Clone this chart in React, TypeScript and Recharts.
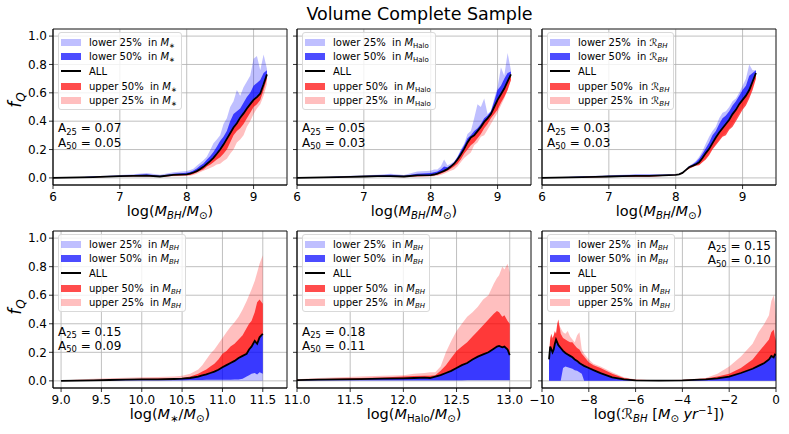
import React from 'react';
import { ComposedChart, Area, Line, XAxis, YAxis, CartesianGrid, ReferenceArea } from 'recharts';

const FONT = '"DejaVu Sans", Verdana, sans-serif';

// ---------- Panel A: top-left, split in M*, x = log(MBH) ----------
const xA = [6.0,6.2,6.4,6.6,6.8,7.0,7.2,7.4,7.6,7.8,8.0,8.05,8.1,8.15,8.2,8.25,8.3,8.35,8.4,8.45,8.5,8.55,8.6,8.65,8.7,8.75,8.8,8.85,8.9,8.95,9.0,9.05,9.1,9.15,9.2];
const allA = [0.000,0.002,0.004,0.006,0.009,0.012,0.014,0.016,0.010,0.022,0.025,0.030,0.038,0.048,0.062,0.078,0.098,0.118,0.142,0.170,0.200,0.235,0.275,0.315,0.355,0.385,0.425,0.455,0.490,0.520,0.550,0.570,0.595,0.660,0.730];
const lo25A = [0.000,0.003,0.006,0.012,0.016,0.020,0.026,0.034,0.022,0.040,0.048,0.055,0.065,0.085,0.105,0.125,0.150,0.195,0.245,0.270,0.300,0.380,0.420,0.500,0.540,0.620,0.580,0.640,0.680,0.720,0.840,0.860,0.760,0.870,0.770];
const lo50A = [0.000,0.003,0.005,0.010,0.013,0.016,0.020,0.025,0.016,0.030,0.036,0.042,0.052,0.066,0.085,0.102,0.128,0.152,0.182,0.220,0.260,0.290,0.330,0.400,0.450,0.470,0.490,0.530,0.570,0.600,0.650,0.670,0.690,0.740,0.760];
const up50A = [0.000,0.001,0.003,0.005,0.007,0.009,0.011,0.012,0.007,0.015,0.018,0.020,0.028,0.038,0.050,0.060,0.080,0.092,0.110,0.130,0.145,0.170,0.200,0.250,0.300,0.330,0.350,0.380,0.420,0.460,0.500,0.520,0.550,0.620,0.700];
const up25A = [0.000,0.001,0.002,0.004,0.006,0.008,0.010,0.010,0.006,0.012,0.014,0.015,0.020,0.030,0.040,0.050,0.060,0.070,0.080,0.095,0.100,0.120,0.135,0.170,0.200,0.250,0.270,0.300,0.360,0.400,0.450,0.490,0.520,0.580,0.660];

// ---------- Panel B: top-middle, split in MHalo ----------
const xB = [6.0,6.2,6.4,6.6,6.8,7.0,7.2,7.4,7.6,7.8,8.0,8.05,8.1,8.15,8.2,8.25,8.3,8.35,8.4,8.45,8.5,8.55,8.6,8.65,8.7,8.75,8.8,8.85,8.9,8.95,9.0,9.05,9.1,9.15,9.2];
const allB = [0.000,0.002,0.004,0.006,0.008,0.010,0.012,0.012,0.010,0.018,0.020,0.024,0.030,0.040,0.050,0.062,0.080,0.100,0.130,0.165,0.205,0.250,0.285,0.300,0.330,0.360,0.395,0.420,0.450,0.500,0.550,0.590,0.630,0.680,0.730];
const lo25B = [0.000,0.003,0.006,0.012,0.016,0.018,0.022,0.030,0.020,0.045,0.050,0.060,0.060,0.080,0.130,0.090,0.100,0.115,0.150,0.200,0.240,0.310,0.330,0.420,0.520,0.500,0.560,0.450,0.470,0.560,0.640,0.780,0.720,0.880,0.760];
const lo50B = [0.000,0.002,0.005,0.009,0.012,0.014,0.018,0.022,0.016,0.030,0.035,0.040,0.045,0.060,0.080,0.075,0.090,0.110,0.145,0.190,0.230,0.280,0.300,0.330,0.350,0.380,0.420,0.440,0.470,0.540,0.620,0.650,0.700,0.740,0.750];
const up50B = [0.000,0.001,0.003,0.004,0.006,0.008,0.009,0.009,0.006,0.012,0.014,0.018,0.022,0.030,0.040,0.050,0.065,0.080,0.100,0.130,0.170,0.200,0.230,0.250,0.280,0.310,0.350,0.380,0.420,0.450,0.480,0.530,0.570,0.620,0.690];
const up25B = [0.000,0.001,0.002,0.003,0.005,0.006,0.008,0.006,0.004,0.008,0.010,0.012,0.015,0.020,0.030,0.040,0.050,0.060,0.080,0.110,0.140,0.160,0.180,0.230,0.250,0.290,0.300,0.340,0.380,0.420,0.460,0.510,0.560,0.620,0.690];

// ---------- Panel C: top-right, split in R_BH ----------
const xC = [6.0,6.2,6.4,6.6,6.8,7.0,7.2,7.4,7.6,7.8,8.0,8.05,8.1,8.15,8.2,8.25,8.3,8.35,8.4,8.45,8.5,8.55,8.6,8.65,8.7,8.75,8.8,8.85,8.9,8.95,9.0,9.05,9.1,9.15,9.2];
const allC = [0.000,0.002,0.004,0.006,0.008,0.010,0.012,0.014,0.015,0.018,0.022,0.025,0.035,0.055,0.075,0.085,0.095,0.110,0.140,0.175,0.205,0.245,0.285,0.320,0.350,0.380,0.410,0.450,0.480,0.520,0.550,0.580,0.620,0.680,0.740];
const lo25C = [0.000,0.004,0.008,0.012,0.015,0.018,0.022,0.026,0.025,0.025,0.026,0.028,0.040,0.060,0.085,0.100,0.120,0.150,0.190,0.240,0.290,0.330,0.360,0.420,0.460,0.470,0.500,0.540,0.560,0.600,0.650,0.700,0.800,0.760,0.760];
const lo50C = [0.000,0.003,0.006,0.010,0.012,0.015,0.018,0.022,0.022,0.022,0.024,0.027,0.038,0.058,0.080,0.095,0.110,0.135,0.170,0.210,0.250,0.300,0.330,0.380,0.420,0.440,0.470,0.510,0.540,0.580,0.620,0.650,0.720,0.740,0.760];
const up50C = [0.000,0.001,0.002,0.003,0.005,0.006,0.007,0.008,0.009,0.014,0.020,0.022,0.030,0.050,0.065,0.075,0.085,0.090,0.110,0.130,0.160,0.200,0.230,0.260,0.290,0.300,0.340,0.360,0.400,0.440,0.480,0.510,0.560,0.620,0.700];
const up25C = [0.000,0.001,0.002,0.003,0.005,0.006,0.007,0.008,0.009,0.014,0.020,0.022,0.032,0.052,0.070,0.080,0.090,0.095,0.115,0.140,0.170,0.210,0.240,0.270,0.300,0.320,0.350,0.380,0.420,0.460,0.500,0.530,0.580,0.640,0.710];

// ---------- Panel D: bottom-left, x = log(M*), split in MBH ----------
const xD = [9.0,9.2,9.4,9.6,9.8,10.0,10.2,10.4,10.5,10.6,10.7,10.75,10.8,10.85,10.9,10.95,11.0,11.05,11.1,11.15,11.2,11.25,11.3,11.33,11.36,11.4,11.43,11.46,11.5];
const allD = [0.000,0.002,0.004,0.006,0.008,0.010,0.011,0.013,0.015,0.020,0.030,0.038,0.045,0.055,0.065,0.078,0.095,0.110,0.125,0.140,0.160,0.175,0.190,0.220,0.240,0.280,0.260,0.305,0.330];
const lo25D = [0,0,0,0,0,0,0,0,0,0,0,0,0,0,0,0,0,0,0,0,0,0,0,0,0,0,0,0,0];
const lo50D = [0.000,0.001,0.002,0.003,0.004,0.005,0.005,0.005,0.005,0.006,0.006,0.006,0.007,0.007,0.008,0.008,0.008,0.008,0.008,0.009,0.010,0.015,0.030,0.040,0.050,0.055,0.045,0.060,0.050];
const up50D = [0.000,0.004,0.006,0.008,0.012,0.015,0.017,0.018,0.020,0.030,0.050,0.065,0.080,0.100,0.120,0.150,0.190,0.210,0.240,0.260,0.290,0.320,0.370,0.400,0.420,0.480,0.550,0.570,0.540];
const up25D = [0.000,0.010,0.015,0.018,0.022,0.025,0.027,0.030,0.035,0.050,0.080,0.110,0.150,0.190,0.220,0.260,0.300,0.340,0.380,0.410,0.450,0.500,0.560,0.600,0.640,0.700,0.760,0.820,0.880];

// ---------- Panel E: bottom-middle, x = log(MHalo), split in MBH ----------
const xE = [11.0,11.2,11.4,11.6,11.8,12.0,12.1,12.2,12.25,12.3,12.35,12.4,12.45,12.5,12.55,12.6,12.65,12.7,12.75,12.8,12.85,12.88,12.9,12.93,12.95,12.98,13.0];
const allE = [0.005,0.008,0.010,0.012,0.015,0.018,0.020,0.022,0.020,0.030,0.040,0.055,0.070,0.090,0.110,0.125,0.150,0.170,0.185,0.200,0.225,0.240,0.245,0.235,0.240,0.220,0.180];
const lo25E = [0,0,0,0,0,0,0,0,0,0,0,0,0,0,0,0,0,0,0,0,0,0,0,0,0,0,0];
const lo50E = [0.003,0.004,0.005,0.005,0.005,0.005,0.005,0.005,0.005,0.005,0.005,0.005,0.005,0.005,0.005,0.006,0.006,0.006,0.006,0.006,0.006,0.006,0.006,0.006,0.006,0.006,0.006];
const up50E = [0.008,0.012,0.016,0.020,0.024,0.030,0.034,0.036,0.035,0.040,0.070,0.110,0.160,0.210,0.240,0.270,0.310,0.350,0.390,0.430,0.470,0.490,0.480,0.450,0.460,0.420,0.400];
const up25E = [0.012,0.020,0.025,0.030,0.035,0.040,0.050,0.055,0.060,0.060,0.100,0.200,0.280,0.350,0.400,0.450,0.480,0.520,0.570,0.600,0.680,0.720,0.740,0.800,0.780,0.820,0.760];

// ---------- Panel F: bottom-right, x = log(R_BH), split in MBH ----------
const xF = [-9.7,-9.65,-9.6,-9.55,-9.5,-9.45,-9.4,-9.35,-9.3,-9.2,-9.1,-9.0,-8.9,-8.8,-8.7,-8.6,-8.5,-8.4,-8.3,-8.2,-8.0,-7.8,-7.5,-7.0,-6.5,-6.0,-5.0,-4.0,-3.0,-2.5,-2.0,-1.5,-1.0,-0.75,-0.5,-0.3,-0.2,-0.1,-0.05,0.0];
const allF = [0.15,0.24,0.22,0.20,0.22,0.26,0.29,0.27,0.25,0.23,0.21,0.195,0.185,0.175,0.165,0.15,0.14,0.125,0.115,0.105,0.09,0.075,0.054,0.025,0.01,0.004,0.002,0.004,0.010,0.018,0.030,0.055,0.085,0.105,0.125,0.150,0.175,0.165,0.185,0.180];
const lo25F = [0,0,0,0,0,0,0,0,0,0,0,0,0,0,0,0,0,0,0,0,0,0,0,0,0,0,0,0,0,0,0,0,0,0,0,0,0,0,0,0];
const lo50F = [0,0,0,0,0,0,0,0,0,0,0.09,0.10,0.095,0.09,0.085,0.075,0.07,0.06,0.05,0,0,0,0,0,0,0,0,0,0,0,0,0,0,0,0,0,0,0,0,0];
const up50F = [0.18,0.30,0.33,0.30,0.32,0.35,0.33,0.40,0.43,0.33,0.30,0.29,0.28,0.27,0.27,0.25,0.23,0.22,0.19,0.17,0.13,0.11,0.09,0.05,0.02,0.008,0.004,0.006,0.016,0.03,0.05,0.09,0.15,0.20,0.25,0.29,0.34,0.36,0.31,0.28];
const up25F = [0.18,0.28,0.30,0.28,0.31,0.34,0.33,0.38,0.40,0.37,0.34,0.33,0.35,0.31,0.29,0.27,0.32,0.34,0.22,0.19,0.15,0.12,0.10,0.06,0.025,0.01,0.005,0.008,0.02,0.05,0.10,0.17,0.26,0.34,0.40,0.46,0.56,0.60,0.55,0.45];

// ---------- ticks ----------
const Y_TICKS = [0, 0.2, 0.4, 0.6, 0.8, 1.0];
const TICKS_TOP = [6, 7, 8, 9];
const TICKS_MSTAR = [9.0, 9.5, 10.0, 10.5, 11.0, 11.5];
const TICKS_HALO = [11.0, 11.5, 12.0, 12.5, 13.0];
const TICKS_RBH = [-10, -8, -6, -4, -2, 0];

type Row = { x: number; all: number; lo25: number; lo50: number; up50: number; up25: number };
const rowsOf = (x: number[], all: number[], lo25: number[], lo50: number[], up50: number[], up25: number[]): Row[] =>
  x.map((v, i) => ({ x: v, all: all[i], lo25: lo25[i], lo50: lo50[i], up50: up50[i], up25: up25[i] }));

const C_LB = 'rgba(0,0,255,0.25)';
const C_B = 'rgba(0,0,255,0.7)';
const C_R = 'rgba(255,0,0,0.7)';
const C_LR = 'rgba(255,0,0,0.25)';

const Sub = ({ children }: { children: React.ReactNode }) => (
  <span style={{ fontSize: '0.7em', position: 'relative', top: '0.3em', lineHeight: 0 }}>{children}</span>
);
const Sup = ({ children }: { children: React.ReactNode }) => (
  <span style={{ fontSize: '0.7em', position: 'relative', top: '-0.45em', lineHeight: 0 }}>{children}</span>
);

const fmt1 = (v: number) => v.toFixed(1);
const fmtInt = (v: number) => (v < 0 ? '\u2212' + Math.abs(v) : String(v));

type PanelProps = {
  left: number; top: number; width: number; height: number; rows: Row[];
  xDomain: [number, number]; xTicks: number[]; xFmt: (v: number) => string; showY: boolean;
};

const Panel = ({ left, top, width, height, rows, xDomain, xTicks, xFmt, showY }: PanelProps) => (
  <div style={{ position: 'absolute', left: left - 40, top: top - 5 }}>
    <ComposedChart width={width + 45} height={height + 35} data={rows} margin={{ top: 5, right: 5, bottom: 0, left: 0 }}>
      <CartesianGrid stroke="#b0b0b0" strokeWidth={0.8} />
      <XAxis dataKey="x" type="number" domain={xDomain} ticks={xTicks} tickFormatter={xFmt} allowDataOverflow interval={0}
        height={30} tickSize={4} tickMargin={3} axisLine={{ stroke: '#000', strokeWidth: 0.8 }} tickLine={{ stroke: '#000', strokeWidth: 0.8 }}
        tick={{ fontSize: 12, fill: '#000', fontFamily: FONT }} />
      <YAxis type="number" domain={[-0.05, 1.05]} ticks={Y_TICKS} tickFormatter={showY ? fmt1 : () => ''} allowDataOverflow interval={0}
        width={40} tickSize={4} tickMargin={2} axisLine={{ stroke: '#000', strokeWidth: 0.8 }} tickLine={{ stroke: '#000', strokeWidth: 0.8 }}
        tick={{ fontSize: 12, fill: '#000', fontFamily: FONT }} />
      <Area type="linear" dataKey={(d: Row) => [d.all, d.lo25]} fill={C_LB} fillOpacity={1} stroke="none" isAnimationActive={false} />
      <Area type="linear" dataKey={(d: Row) => [d.all, d.lo50]} fill={C_B} fillOpacity={1} stroke="none" isAnimationActive={false} />
      <Area type="linear" dataKey={(d: Row) => [d.all, d.up50]} fill={C_R} fillOpacity={1} stroke="none" isAnimationActive={false} />
      <Area type="linear" dataKey={(d: Row) => [d.all, d.up25]} fill={C_LR} fillOpacity={1} stroke="none" isAnimationActive={false} />
      <Line type="linear" dataKey="all" stroke="#000" strokeWidth={1.8} dot={false} activeDot={false} isAnimationActive={false} />
      <ReferenceArea x1={xDomain[0]} x2={xDomain[1]} y1={-0.05} y2={1.05} fill="none" stroke="#000" strokeWidth={0.8} ifOverflow="visible" />
    </ComposedChart>
  </div>
);

const LegendBox = ({ left, top, sub }: { left: number; top: number; sub: React.ReactNode }) => {
  const items = [
    { label: 'lower 25%', color: C_LB },
    { label: 'lower 50%', color: C_B },
    { label: 'ALL', color: null },
    { label: 'upper 50%', color: C_R },
    { label: 'upper 25%', color: C_LR },
  ];
  return (
    <div style={{ position: 'absolute', left, top, background: 'rgba(255,255,255,0.8)', border: '1px solid #d9d9d9',
      borderRadius: 3, padding: '2px 4px 1px 2px', fontFamily: FONT, fontSize: 10, color: '#000' }}>
      {items.map((it) => (
        <div key={it.label} style={{ display: 'flex', alignItems: 'center', height: 14.6, whiteSpace: 'pre' }}>
          {it.color ? (
            <span style={{ display: 'inline-block', width: 20, height: 7, background: it.color }} />
          ) : (
            <span style={{ display: 'inline-block', width: 20, height: 2, background: '#000' }} />
          )}
          <span style={{ marginLeft: 8 }}>
            {it.label}
            {it.color ? <>{'  in '}{sub}</> : null}
          </span>
        </div>
      ))}
    </div>
  );
};

const Txt = ({ x, y, size, children, anchor = 'left', rotate = false, style = {} }:
  { x: number; y: number; size: number; children: React.ReactNode; anchor?: string; rotate?: boolean; style?: React.CSSProperties }) => {
  const tx = anchor === 'center' ? '-50%' : anchor === 'right' ? '-100%' : '0';
  return (
    <div style={{ position: 'absolute', left: x, top: y, fontFamily: FONT, fontSize: size, color: '#000', whiteSpace: 'nowrap', lineHeight: 1,
      transform: rotate ? 'translate(-50%,-50%) rotate(-90deg)' : `translate(${tx},-50%)`, ...style }}>
      {children}
    </div>
  );
};

const Ann = ({ x, y, a25, a50, anchor = 'left' }: { x: number; y: number; a25: string; a50: string; anchor?: string }) => (
  <>
    <Txt x={x} y={y} size={12} anchor={anchor}>A<Sub>25</Sub> = {a25}</Txt>
    <Txt x={x} y={y + 14.4} size={12} anchor={anchor}>A<Sub>50</Sub> = {a50}</Txt>
  </>
);

const I = ({ children }: { children: React.ReactNode }) => <i>{children}</i>;

const COLS = [53, 297, 542];
const PW = 234;
const TOP1 = 29, H1 = 156;
const TOP2 = 231, H2 = 157;

const subMstar = <><I>M</I><Sub>∗</Sub></>;
const subHalo = <><I>M</I><Sub>Halo</Sub></>;
const subR = <>ℛ<Sub><I>BH</I></Sub></>;
const subMBH = <><I>M</I><Sub><I>BH</I></Sub></>;

const xlabMBH = <>log(<I>M</I><Sub><I>BH</I></Sub>/<I>M</I><Sub>⊙</Sub>)</>;

export default function App() {
  return (
    <div style={{ position: 'absolute', left: 0, top: 0, width: 789, height: 434, background: '#fff', overflow: 'hidden' }}>
      <Panel left={COLS[0]} top={TOP1} width={PW} height={H1} rows={rowsOf(xA, allA, lo25A, lo50A, up50A, up25A)} xDomain={[6, 9.5]} xTicks={TICKS_TOP} xFmt={fmtInt} showY />
      <Panel left={COLS[1]} top={TOP1} width={PW} height={H1} rows={rowsOf(xB, allB, lo25B, lo50B, up50B, up25B)} xDomain={[6, 9.5]} xTicks={TICKS_TOP} xFmt={fmtInt} showY={false} />
      <Panel left={COLS[2]} top={TOP1} width={PW} height={H1} rows={rowsOf(xC, allC, lo25C, lo50C, up50C, up25C)} xDomain={[6, 9.5]} xTicks={TICKS_TOP} xFmt={fmtInt} showY={false} />
      <Panel left={COLS[0]} top={TOP2} width={PW} height={H2} rows={rowsOf(xD, allD, lo25D, lo50D, up50D, up25D)} xDomain={[8.9, 11.8]} xTicks={TICKS_MSTAR} xFmt={fmt1} showY />
      <Panel left={COLS[1]} top={TOP2} width={PW} height={H2} rows={rowsOf(xE, allE, lo25E, lo50E, up50E, up25E)} xDomain={[11.0, 13.2]} xTicks={TICKS_HALO} xFmt={fmt1} showY={false} />
      <Panel left={COLS[2]} top={TOP2} width={PW} height={H2} rows={rowsOf(xF, allF, lo25F, lo50F, up50F, up25F)} xDomain={[-10, 0]} xTicks={TICKS_RBH} xFmt={fmtInt} showY={false} />

      <LegendBox left={COLS[0] + 5} top={TOP1 + 3} sub={subMstar} />
      <LegendBox left={COLS[1] + 5} top={TOP1 + 3} sub={subHalo} />
      <LegendBox left={COLS[2] + 5} top={TOP1 + 3} sub={subR} />
      <LegendBox left={COLS[0] + 5} top={TOP2 + 3} sub={subMBH} />
      <LegendBox left={COLS[1] + 5} top={TOP2 + 3} sub={subMBH} />
      <LegendBox left={COLS[2] + 5} top={TOP2 + 3} sub={subMBH} />

      <Ann x={COLS[0] + 5} y={128.3} a25="0.07" a50="0.05" />
      <Ann x={COLS[1] + 5} y={128.3} a25="0.05" a50="0.03" />
      <Ann x={COLS[2] + 5} y={128.3} a25="0.03" a50="0.03" />
      <Ann x={COLS[0] + 5} y={331.5} a25="0.15" a50="0.09" />
      <Ann x={COLS[1] + 5} y={331.5} a25="0.18" a50="0.11" />
      <Ann x={COLS[2] + PW - 5} y={245.7} a25="0.15" a50="0.10" anchor="right" />

      <Txt x={419.5} y={15} size={17.5} anchor="center">Volume Complete Sample</Txt>

      <Txt x={15} y={100} size={17} rotate><I>f</I><Sub><I>Q</I></Sub></Txt>
      <Txt x={15} y={307} size={17} rotate><I>f</I><Sub><I>Q</I></Sub></Txt>

      <Txt x={COLS[0] + PW / 2} y={211} size={14.5} anchor="center">{xlabMBH}</Txt>
      <Txt x={COLS[1] + PW / 2} y={211} size={14.5} anchor="center">{xlabMBH}</Txt>
      <Txt x={COLS[2] + PW / 2} y={211} size={14.5} anchor="center">{xlabMBH}</Txt>
      <Txt x={COLS[0] + PW / 2} y={414} size={14.5} anchor="center">log(<I>M</I><Sub>∗</Sub>/<I>M</I><Sub>⊙</Sub>)</Txt>
      <Txt x={COLS[1] + PW / 2} y={414} size={14.5} anchor="center">log(<I>M</I><Sub>Halo</Sub>/<I>M</I><Sub>⊙</Sub>)</Txt>
      <Txt x={COLS[2] + PW / 2} y={414} size={14.5} anchor="center">log(ℛ<Sub><I>BH</I></Sub> [<I>M</I><Sub>⊙</Sub> <I>yr</I><Sup>−1</Sup>])</Txt>
    </div>
  );
}
